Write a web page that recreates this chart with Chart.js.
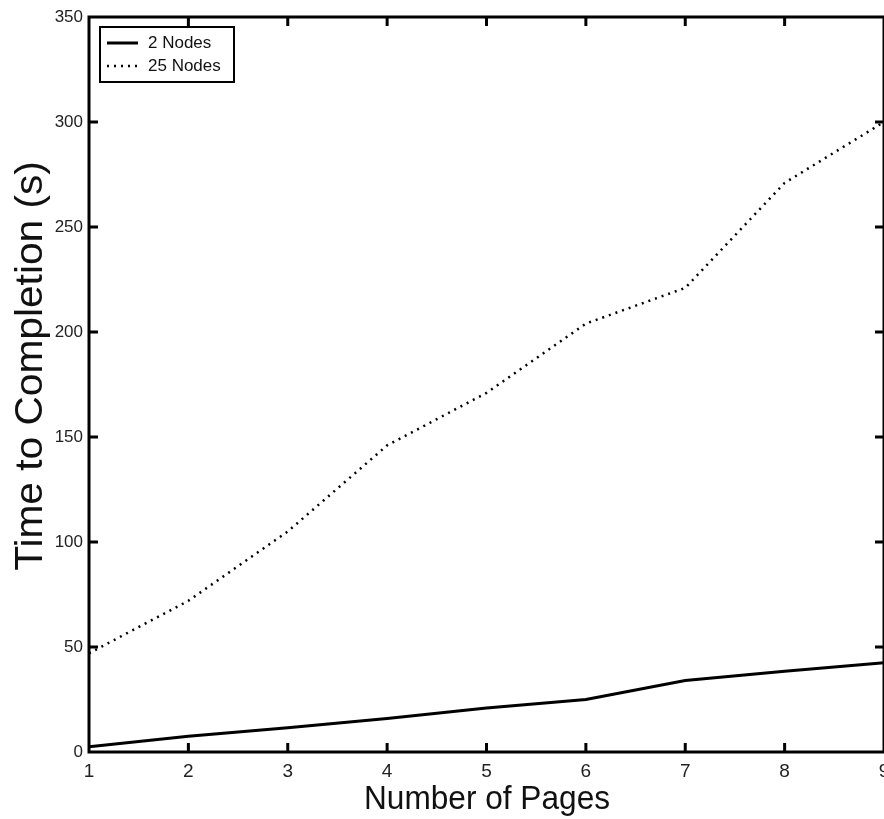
<!DOCTYPE html>
<html lang="en">
<head>
  <meta charset="UTF-8" />
  <title>Time to Completion</title>
  <script src="https://cdn.jsdelivr.net/npm/chart.js"></script>
  <style>
    html, body { margin: 0; padding: 0; background: #fff; }
    #wrap { width: 884px; height: 819px; }
  </style>
</head>
<body>
  <div id="wrap"><canvas id="timeChart" width="884" height="819"></canvas></div>

  <script>
    // values
    const pages = [1, 2, 3, 4, 5, 6, 7, 8, 9];
    const nodes2 = [2.5, 7.5, 11.5, 16, 21, 25, 34, 38.5, 42.5];
    const nodes25 = [47, 72, 105, 146, 171, 204, 221, 271, 300];
    const seriesNames = ['2 Nodes', '25 Nodes'];
    const xTitle = 'Number of Pages';
    const yTitle = 'Time to Completion (s)';

    const toPoints = vals => pages.map((p, i) => ({ x: p, y: vals[i] }));

    // box around plot with ticks pointing inward, like matlab
    const framePlugin = {
      id: 'frame',
      afterDatasetsDraw(chart) {
        const { ctx, chartArea: a, scales } = chart;
        ctx.save();
        ctx.strokeStyle = '#000';
        ctx.lineWidth = 3;
        ctx.strokeRect(a.left, a.top, a.right - a.left, a.bottom - a.top);
        const tl = 9;
        ctx.beginPath();
        scales.x.ticks.forEach(t => {
          const px = scales.x.getPixelForValue(t.value);
          if (t.value <= scales.x.min || t.value >= scales.x.max) return;
          ctx.moveTo(px, a.bottom); ctx.lineTo(px, a.bottom - tl);
          ctx.moveTo(px, a.top); ctx.lineTo(px, a.top + tl);
        });
        scales.y.ticks.forEach(t => {
          const py = scales.y.getPixelForValue(t.value);
          if (t.value <= scales.y.min || t.value >= scales.y.max) return;
          ctx.moveTo(a.left, py); ctx.lineTo(a.left + tl, py);
          ctx.moveTo(a.right, py); ctx.lineTo(a.right - tl, py);
        });
        ctx.stroke();

        // legend box, top left inside plot
        const lx = 100, ly = 27, lw = 134, lh = 55;
        ctx.fillStyle = '#fff';
        ctx.fillRect(lx, ly, lw, lh);
        ctx.lineWidth = 2;
        ctx.strokeRect(lx, ly, lw, lh);
        ctx.font = '17px "Liberation Sans", Arial, sans-serif';
        ctx.textBaseline = 'middle';
        chart.data.datasets.forEach((ds, i) => {
          const yy = ly + 16 + i * 23;
          ctx.beginPath();
          ctx.lineWidth = ds.borderWidth;
          ctx.setLineDash(ds.borderDash || []);
          ctx.moveTo(lx + 7, yy);
          ctx.lineTo(lx + 38, yy);
          ctx.stroke();
          ctx.setLineDash([]);
          ctx.fillStyle = '#111';
          ctx.fillText(ds.label, lx + 48, yy);
        });

        // axis titles
        ctx.fillStyle = '#111';
        ctx.font = '34px "Liberation Sans", Arial, sans-serif';
        ctx.textAlign = 'center';
        ctx.textBaseline = 'alphabetic';
        ctx.save();
        ctx.translate(487, 809);
        ctx.scale(0.93, 1);
        ctx.fillText(xTitle, 0, 0);
        ctx.restore();

        ctx.save();
        ctx.translate(42, 366);
        ctx.rotate(-Math.PI / 2);
        ctx.font = '38px "Liberation Sans", Arial, sans-serif';
        ctx.scale(1.07, 1);
        ctx.fillText(yTitle, 0, 0);
        ctx.restore();
        ctx.restore();
      }
    };

    const ctx = document.getElementById('timeChart').getContext('2d');
    new Chart(ctx, {
      type: 'line',
      data: {
        datasets: [
          {
            label: seriesNames[0],
            data: toPoints(nodes2),
            borderColor: '#000',
            borderWidth: 3,
            pointRadius: 0,
            tension: 0
          },
          {
            label: seriesNames[1],
            data: toPoints(nodes25),
            borderColor: '#000',
            borderWidth: 2.5,
            borderDash: [2, 5],
            pointRadius: 0,
            tension: 0
          }
        ]
      },
      options: {
        responsive: false,
        animation: false,
        layout: { padding: { top: 17, right: 0, bottom: 0, left: 0 } },
        plugins: {
          legend: { display: false },
          tooltip: { enabled: false }
        },
        scales: {
          x: {
            type: 'linear',
            min: 1,
            max: 9,
            grid: { display: false, drawTicks: false },
            border: { display: false },
            ticks: {
              stepSize: 1,
              padding: 8,
              color: '#222',
              font: { family: '"Liberation Sans", Arial, sans-serif', size: 19 },
              maxRotation: 0
            },
            afterFit(scale) {
              scale.height = 67;
              scale.paddingLeft = 0;
              scale.paddingRight = 0;
            }
          },
          y: {
            min: 0,
            max: 350,
            grid: { display: false, drawTicks: false },
            border: { display: false },
            ticks: {
              stepSize: 50,
              padding: 6,
              color: '#222',
              font: { family: '"Liberation Sans", Arial, sans-serif', size: 17 }
            },
            afterFit(scale) {
              scale.width = 89;
              scale.paddingTop = 0;
              scale.paddingBottom = 0;
            }
          }
        }
      },
      plugins: [framePlugin]
    });
  </script>
</body>
</html>
